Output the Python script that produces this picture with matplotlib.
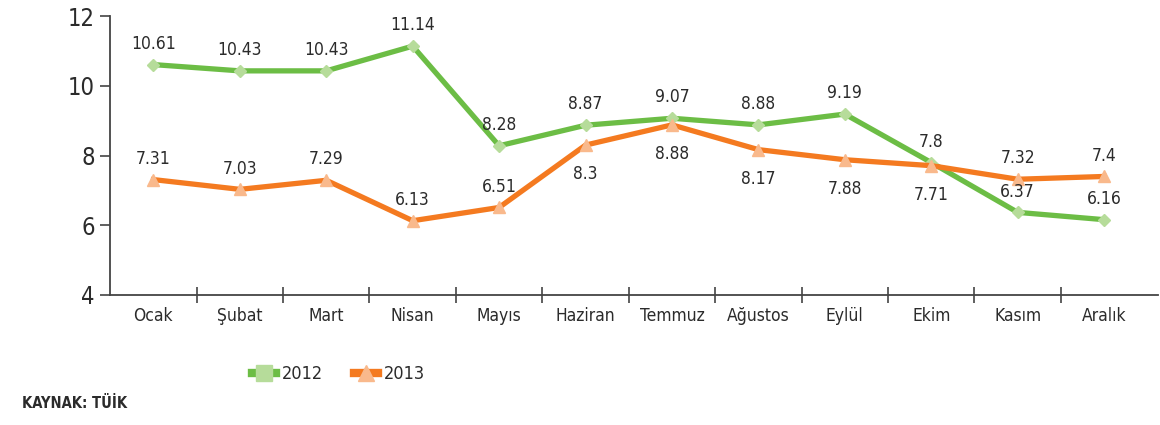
import matplotlib
matplotlib.use("Agg")
import matplotlib.pyplot as plt
from matplotlib.lines import Line2D

months = ['Ocak', 'Şubat', 'Mart', 'Nisan', 'Mayıs', 'Haziran', 'Temmuz',
          'Ağustos', 'Eylül', 'Ekim', 'Kasım', 'Aralık']
y2012 = [10.61, 10.43, 10.43, 11.14, 8.28, 8.87, 9.07, 8.88, 9.19, 7.8, 6.37, 6.16]
y2013 = [7.31, 7.03, 7.29, 6.13, 6.51, 8.3, 8.88, 8.17, 7.88, 7.71, 7.32, 7.4]
# where the value label goes: 1 above the point, -1 below
pos2012 = [1, 1, 1, 1, 1, 1, 1, 1, 1, 1, 1, 1]
pos2013 = [1, 1, 1, 1, 1, -1, -1, -1, -1, -1, 1, 1]
yticks = [4, 6, 8, 10, 12]

plt.rcParams['font.family'] = ['DejaVu Sans']
plt.rcParams['font.stretch'] = 'condensed'

txt = '#2b2b2b'
green, green_m = '#6cbd45', '#b6dc9a'
orange, orange_m = '#f47a20', '#f9b98c'

fig = plt.figure(figsize=(11.6, 4.25), dpi=100)
ax = fig.add_axes([0.095, 0.306, 0.903, 0.656])

x = list(range(len(months)))
ax.plot(x, y2012, color=green, lw=3.8, marker='D', ms=6,
        mfc=green_m, mec=green_m, zorder=3)
ax.plot(x, y2013, color=orange, lw=3.8, marker='^', ms=8,
        mfc=orange_m, mec=orange_m, zorder=3)

for xs, ys, ps in [(x, y2012, pos2012), (x, y2013, pos2013)]:
    for xi, yi, p in zip(xs, ys, ps):
        ax.annotate(f'{yi:g}', (xi, yi), xytext=(0, 15 if p > 0 else -21),
                    textcoords='offset points', ha='center', va='center',
                    fontsize=12.5, color=txt)

ax.set_xlim(-0.5, 11.62)
ax.set_ylim(4, 12)
ax.set_yticks(yticks)
ax.set_yticklabels([str(t) for t in yticks], fontsize=17, color=txt)
ax.set_xticks([i + 0.5 for i in range(11)])
ax.set_xticklabels([])
ax.set_xticks(x, minor=True)
ax.set_xticklabels(months, minor=True, fontsize=12.5, color=txt)
ax.tick_params(axis='x', which='major', direction='inout', length=12, width=1.2, color='#444')
ax.tick_params(axis='x', which='minor', length=0, pad=9)
ax.tick_params(axis='y', direction='out', length=7, width=1.2, color='#444', pad=4)
for s in ['top', 'right']:
    ax.spines[s].set_visible(False)
for s in ['left', 'bottom']:
    ax.spines[s].set_color('#444')
    ax.spines[s].set_linewidth(1.3)

h1 = Line2D([], [], color=green, lw=6, marker='s', ms=11, mfc=green_m, mec=green_m)
h2 = Line2D([], [], color=orange, lw=6, marker='^', ms=12, mfc=orange_m, mec=orange_m)
fig.legend(handles=[h1, h2], labels=['2012', '2013'], loc='center',
           bbox_to_anchor=(0.292, 0.12), ncol=2, frameon=False, fontsize=13,
           handlelength=1.3, columnspacing=1.7, handletextpad=0.35, labelcolor=txt)
fig.text(0.019, 0.04, 'KAYNAK: TÜİK', fontsize=10.5, fontweight='bold', color=txt)

fig.savefig('out.png', dpi=100)
